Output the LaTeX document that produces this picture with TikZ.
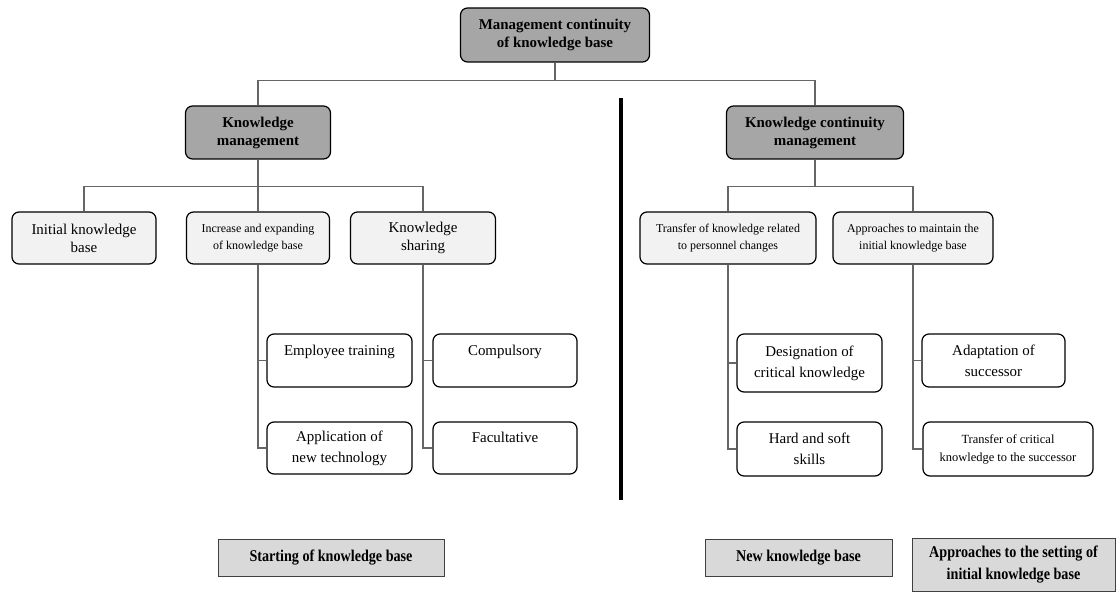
\documentclass[tikz,border=0pt]{standalone}
\usepackage{fontspec}
\setmainfont{Liberation Serif}
\newfontfamily\narrowbold[FakeStretch=0.86]{Liberation Serif}
\usepackage{tikz}
\usetikzlibrary{calc}
\definecolor{headfill}{HTML}{A6A6A6}
\definecolor{midfill}{HTML}{F2F2F2}
\definecolor{footfill}{HTML}{D9D9D9}
\definecolor{linkgray}{HTML}{666666}
\tikzset{
  box/.style={draw=black, line width=1.2bp, rounded corners=7bp, inner sep=0pt, align=center},
  head/.style={box, fill=headfill, font=\fontsize{15}{18}\selectfont\bfseries},
  mid/.style={box, fill=midfill, font=\fontsize{15}{18}\selectfont},
  midsm/.style={box, fill=midfill, font=\fontsize{12}{17.5}\selectfont},
  leaf/.style={box, fill=white, font=\fontsize{15}{21}\selectfont},
  leafsm/.style={box, fill=white, font=\fontsize{12.5}{18}\selectfont},
  foot/.style={draw=black!75, line width=1bp, fill=footfill, inner sep=0pt, align=center,
    font=\narrowbold\fontsize{16.5}{22}\selectfont\bfseries},
  link/.style={draw=linkgray, line width=1.3bp},
  divider/.style={draw=black, line width=4bp}
}

\begin{document}
\begin{tikzpicture}[x=1bp, y=-1bp]
  \useasboundingbox (0,0) rectangle (1120,592);

  % top level
  \node[head, minimum width=189bp, minimum height=54bp] (top) at (555,35)
    {Management continuity\\of knowledge base};
  \node[head, minimum width=145bp, minimum height=53bp] (km) at (258,132.5)
    {Knowledge\\management};
  \node[head, minimum width=177bp, minimum height=53bp] (kcm) at (815,132.5)
    {Knowledge continuity\\management};

  % second level
  \node[mid, minimum width=144bp, minimum height=52bp] (init) at (84,238)
    {Initial knowledge\\base};
  \node[midsm, minimum width=143bp, minimum height=52bp] (incr) at (258,238)
    {Increase and expanding\\of knowledge base};
  \node[mid, minimum width=145bp, minimum height=52bp] (share) at (423,238)
    {Knowledge\\sharing};
  \node[midsm, minimum width=176bp, minimum height=52bp] (trans) at (728,238)
    {Transfer of knowledge related\\to personnel changes};
  \node[midsm, minimum width=160bp, minimum height=52bp] (keep) at (913,238)
    {Approaches to maintain the\\initial knowledge base};

  % third level
  \node[leaf, minimum width=145bp, minimum height=53bp] (train) at (339.5,360.5)
    {Employee training\\\phantom{x}};
  \node[leaf, minimum width=145bp, minimum height=52bp] (tech) at (339.5,448)
    {Application of\\new technology};
  \node[leaf, minimum width=144bp, minimum height=53bp] (must) at (505,360.5)
    {Compulsory\\\phantom{x}};
  \node[leaf, minimum width=144bp, minimum height=52bp] (free) at (505,448)
    {Facultative\\\phantom{x}};
  \node[leaf, minimum width=145bp, minimum height=58bp] (crit) at (809.5,363)
    {Designation of\\critical knowledge};
  \node[leaf, minimum width=145bp, minimum height=54bp] (skill) at (809.5,449)
    {Hard and soft\\skills};
  \node[leaf, minimum width=143bp, minimum height=53bp] (adapt) at (993.5,360.5)
    {Adaptation of\\successor};
  \node[leafsm, minimum width=170bp, minimum height=54bp] (handover) at (1008,449)
    {Transfer of critical\\knowledge to the successor};

  % bottom labels
  \node[foot, minimum width=226bp, minimum height=37bp] (start) at (331,557.5)
    {Starting of knowledge base};
  \node[foot, minimum width=187bp, minimum height=37bp] (newkb) at (798.5,557.5)
    {New knowledge base};
  \node[foot, minimum width=203bp, minimum height=53bp] (setting) at (1013.5,564.5)
    {Approaches to the setting of\\initial knowledge base};

  % connectors
  \draw[link] (top.south) -- ++(0,18) -| (km.north);
  \draw[link] (top.south) -- ++(0,18) -| (kcm.north);
  \draw[link] (km.south) -- ++(0,27) -| (init.north);
  \draw[link] (km.south) -- (incr.north);
  \draw[link] (km.south) -- ++(0,27) -| (share.north);
  \draw[link] (kcm.south) -- ++(0,27) -| (trans.north);
  \draw[link] (kcm.south) -- ++(0,27) -| (keep.north);
  \draw[link] (incr.south) |- (train.west);
  \draw[link] (incr.south) |- (tech.west);
  \draw[link] (share.south) |- (must.west);
  \draw[link] (share.south) |- (free.west);
  \draw[link] (trans.south) |- (crit.west);
  \draw[link] (trans.south) |- (skill.west);
  \draw[link] (keep.south) |- (adapt.west);
  \draw[link] (keep.south) |- (handover.west);

  % divider between the two halves
  \draw[divider] (621,98) -- (621,500);
\end{tikzpicture}
\end{document}
